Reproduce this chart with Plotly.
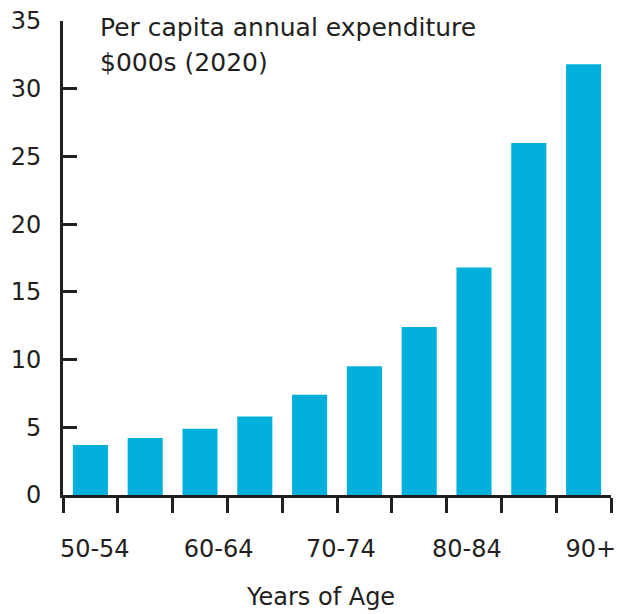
import plotly.graph_objects as go

# Per capita annual expenditure by age band ($000s, 2020)
age_bands = ["50-54", "55-59", "60-64", "65-69", "70-74",
             "75-79", "80-84", "85-89", "90-94", "95+"]
expenditure = [3.7, 4.2, 4.9, 5.8, 7.4, 9.5, 12.4, 16.8, 26.0, 31.8]

axis_labels = ["50-54", "60-64", "70-74", "80-84", "90+"]

BAR_COLOR = "#00B0DA"
INK = "#231F20"
FONT = "DejaVu Sans"

idx = list(range(len(age_bands)))

fig = go.Figure()
fig.add_trace(go.Bar(
    x=idx, y=expenditure, marker_color=BAR_COLOR, marker_line_width=0,
    customdata=age_bands, hovertemplate="%{customdata}: %{y}<extra></extra>",
))
# invisible trace that carries the label axis
fig.add_trace(go.Scatter(x=[idx[0]], y=[0], xaxis="x2", mode="markers",
                         marker_opacity=0, hoverinfo="skip", showlegend=False))

xr = [-0.5, len(age_bands) - 0.5]
fig.update_layout(
    width=617, height=614,
    margin=dict(l=63, r=6, t=21, b=119, autoexpand=False),
    paper_bgcolor="white", plot_bgcolor="white",
    showlegend=False, bargap=0.36,
    font=dict(family=FONT, color=INK, size=24),
    xaxis=dict(
        range=xr, showgrid=False, zeroline=False, automargin=False,
        showline=True, linecolor=INK, linewidth=3,
        ticks="outside", ticklen=15, tickwidth=3, tickcolor=INK,
        tickvals=[i - 0.5 for i in range(len(age_bands) + 1)],
        showticklabels=False,
    ),
    xaxis2=dict(
        range=xr, overlaying="x", side="bottom", anchor="y", automargin=False,
        showgrid=False, zeroline=False, showline=False,
        ticks="outside", ticklen=32, tickcolor="rgba(0,0,0,0)",
        tickvals=[0.08, 2.34, 4.57, 6.87, 9.13],
        ticktext=axis_labels,
        tickfont=dict(size=24, color=INK, family=FONT),
    ),
    yaxis=dict(
        range=[0, 35], tickvals=[0, 5, 10, 15, 20, 25, 30, 35],
        showgrid=False, zeroline=False, automargin=False,
        showline=True, linecolor=INK, linewidth=3,
        ticks="inside", ticklen=14, tickwidth=3, tickcolor=INK,
        ticklabelstandoff=14,
        tickfont=dict(size=24, color=INK, family=FONT),
    ),
    annotations=[
        dict(text="Per capita annual expenditure", xref="paper", yref="paper",
             x=0.063, y=1.0, xanchor="left", yanchor="middle", yshift=-6,
             showarrow=False, font=dict(size=25, color=INK, family=FONT)),
        dict(text="$000s (2020)", xref="paper", yref="paper",
             x=0.063, y=1.0, xanchor="left", yanchor="middle", yshift=-41,
             showarrow=False, font=dict(size=25, color=INK, family=FONT)),
        dict(text="Years of Age", xref="paper", yref="paper",
             x=0.47, y=0.0, xanchor="center", yanchor="middle", yshift=-102,
             showarrow=False, font=dict(size=24, color=INK, family=FONT)),
    ],
)

fig.write_html("out.html")
